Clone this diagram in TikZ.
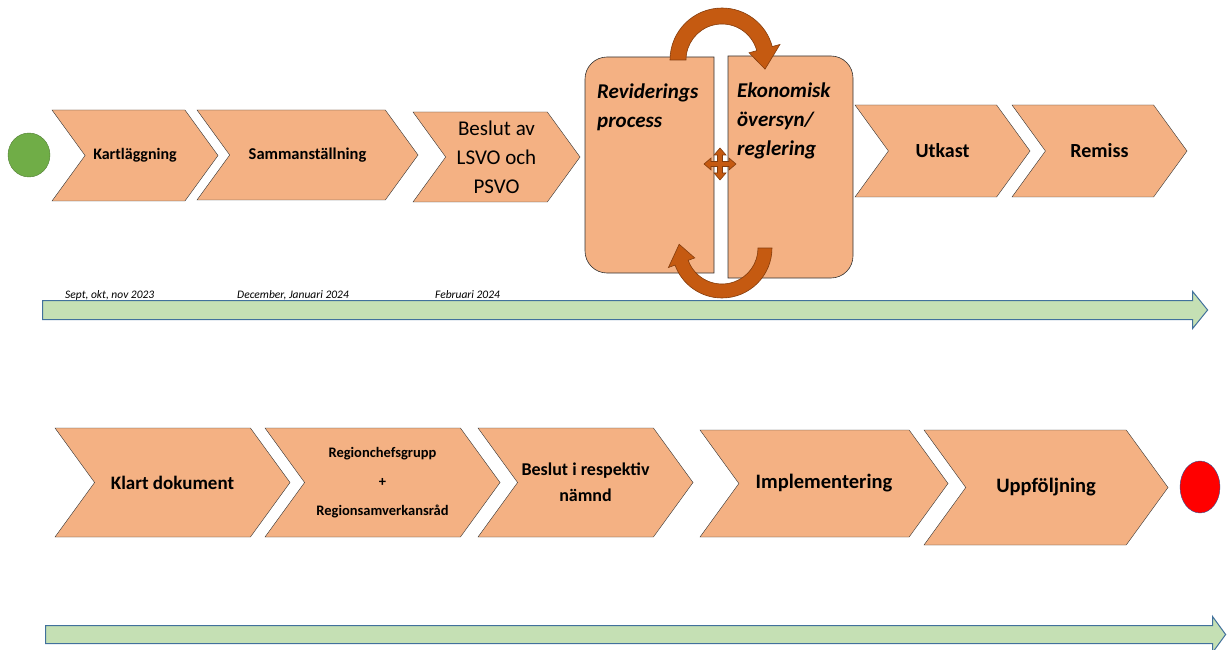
\documentclass[tikz,border=0pt]{standalone}
\usepackage{fontspec}
\setmainfont{Carlito}
\usetikzlibrary{shapes.symbols, shapes.arrows, shapes.geometric, positioning}

\definecolor{chevfill}{HTML}{F4B183}
\definecolor{loopfill}{HTML}{C55A11}
\definecolor{loopline}{HTML}{843C0C}
\definecolor{barfill}{HTML}{C5E0B4}
\definecolor{barline}{HTML}{41719C}
\definecolor{startgreen}{HTML}{70AD47}
\definecolor{startline}{HTML}{507E32}
\definecolor{stopline}{HTML}{2F5597}

\newcommand{\fs}[1]{\fontsize{#1}{1.4\dimexpr#1pt\relax}\selectfont}

\begin{document}
\begin{tikzpicture}[
        x=1pt, y=-1pt,
        chev/.style={signal, signal from=west, signal to=east, signal pointer angle=108,
          draw=black!80, fill=chevfill, inner sep=0pt, align=center, font=\bfseries},
        bar/.style={single arrow, draw=barline, fill=barfill, line width=1pt, inner xsep=0pt,
          single arrow head extend=9pt, anchor=west},
        roundbox/.style={draw=black!80, fill=chevfill, line width=0.6pt},
        loop/.style={fill=loopfill, draw=loopline, line width=0.6pt},
        datetext/.style={font=\itshape\fs{11.5}, anchor=base west, inner sep=0pt},
        boxtext/.style={font=\bfseries\itshape\fontsize{21}{29}\selectfont, align=left, anchor=base west, inner sep=0pt}
    ]
        \useasboundingbox (0,0) rectangle (1227,650);

        % first row
        \node[ellipse, draw=startline, fill=startgreen, minimum width=42, minimum height=44] (start) at (29,155) {};
        \node[chev, minimum width=166, minimum height=91, font=\bfseries\fs{16}] (kart) at (135,155.5) {Kartläggning};
        \node[chev, minimum width=221, minimum height=90, font=\bfseries\fs{16.5}] (samm) at (307.5,155) {Sammanställning};
        \node[chev, minimum width=167, minimum height=90, font=\fontsize{21}{29}\selectfont] (beslut) at (496.5,157) {Beslut av\\LSVO och\\PSVO};

        \draw[roundbox] (714,57) -- (607,57) arc[start angle=270, end angle=180, radius=22]
            -- (585,251) arc[start angle=180, end angle=90, radius=22] -- (714,273) -- cycle;
        \draw[roundbox] (728,56) -- (831,56) arc[start angle=270, end angle=360, radius=22]
            -- (853,256) arc[start angle=0, end angle=90, radius=22] -- (728,278) -- cycle;
        \node[boxtext] (revid) at (597,128) {Reviderings\\process};
        \node[boxtext] (ekon) at (737,156) {Ekonomisk\\översyn/\\reglering};

        % loops between the two boxes
        \draw[loop] ([shift={(180:52)}]722,60) arc[start angle=180, end angle=345, radius=52]
            -- ([shift={(345:60)}]722,60) -- ([shift={(12:44)}]722,60) -- ([shift={(345:28)}]722,60)
            -- ([shift={(345:36)}]722,60) arc[start angle=345, end angle=180, radius=36] -- cycle;
        \draw[loop] ([shift={(0:50)}]722,248) arc[start angle=0, end angle=160, radius=50]
            -- ([shift={(160:57)}]722,248) -- ([shift={(185:43)}]722,248) -- ([shift={(160:29)}]722,248)
            -- ([shift={(160:36)}]722,248) arc[start angle=160, end angle=0, radius=36] -- cycle;
        \draw[loop, shift={(720,164)}] (2.5,-2.5) -- (9,-2.5) -- (9,-6) -- (16,0) -- (9,6) -- (9,2.5)
            -- (2.5,2.5) -- (2.5,9) -- (6,9) -- (0,16) -- (-6,9) -- (-2.5,9) -- (-2.5,2.5)
            -- (-9,2.5) -- (-9,6) -- (-16,0) -- (-9,-6) -- (-9,-2.5) -- (-2.5,-2.5)
            -- (-2.5,-9) -- (-6,-9) -- (0,-16) -- (6,-9) -- (2.5,-9) -- cycle;

        \node[chev, minimum width=175, minimum height=92, font=\bfseries\fs{20}] (utkast) at (942.5,151) {Utkast};
        \node[chev, minimum width=175, minimum height=92, font=\bfseries\fs{20}] (remiss) at (1099.5,151) {Remiss};

        % time line
        \node[datetext] (d1) at (65,298) {Sept, okt, nov 2023};
        \node[datetext] (d2) at (237,298) {December, Januari 2024};
        \node[datetext] (d3) at (435,298) {Februari 2024};
        \node[bar, inner ysep=9pt, single arrow tip angle=102, minimum height=1165] (bar1) at (42,310) {};

        % second row
        \node[chev, minimum width=235, minimum height=109, font=\bfseries\fs{19}] (klart) at (172.5,482.5) {Klart dokument};
        \node[chev, minimum width=235, minimum height=109, font=\bfseries\fontsize{14.5}{29}\selectfont] (region) at (382.5,482.5) {Regionchefsgrupp\\+\\Regionsamverkansråd};
        \node[chev, minimum width=215, minimum height=109, font=\bfseries\fontsize{18}{26}\selectfont] (namnd) at (585.5,482.5) {Beslut i respektiv\\nämnd};
        \node[chev, minimum width=248, minimum height=107, font=\bfseries\fs{20.5}] (impl) at (824,483.5) {Implementering};
        \node[chev, minimum width=244, minimum height=115, font=\bfseries\fs{20.5}] (uppf) at (1046,487.5) {Uppföljning};
        \node[ellipse, draw=stopline, fill=red, minimum width=40, minimum height=52] (stop) at (1200,487) {};

        \node[bar, inner ysep=8.5pt, single arrow tip angle=108, minimum height=1180] (bar2) at (45,634.5) {};
\end{tikzpicture}
\end{document}
